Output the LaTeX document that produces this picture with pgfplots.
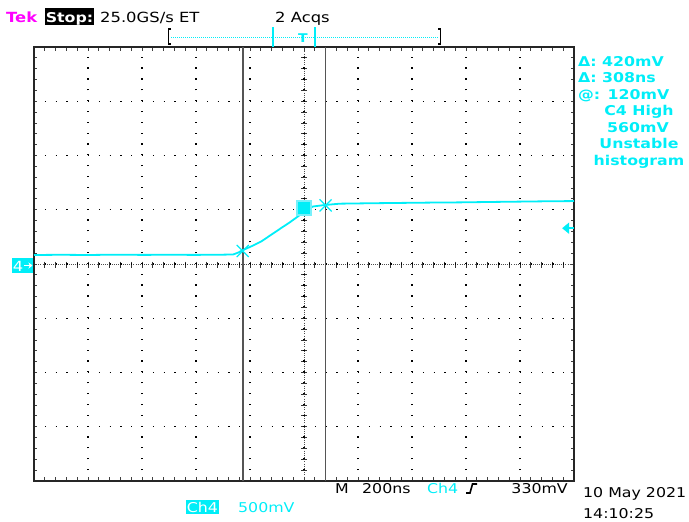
\documentclass[border=0pt]{standalone}
\usepackage{pgfplots}
\pgfplotsset{compat=1.18}
\usepackage{fontspec}
\setmainfont{DejaVu Sans}
\newfontfamily\tek[FakeStretch=1.17]{DejaVu Sans}
\usetikzlibrary{arrows.meta}
\definecolor{tcyan}{RGB}{0,238,248}
\definecolor{tmag}{RGB}{255,0,255}
\definecolor{cur}{RGB}{85,85,85}
\newcommand{\fs}[1]{\fontsize{#1}{#1}\selectfont}
\begin{document}
\begin{tikzpicture}
\begin{scope}[x=1pt,y=-1pt]
\useasboundingbox (0,0) rectangle (689,522);
% centre graticule lines with fine dots and minor ticks
\draw[black!70, line width=1pt, dash pattern=on 1pt off 1.16pt] (34,264.5)--(574,264.5);
\draw[black!70, line width=1pt, dash pattern=on 1pt off 1.17pt] (304,47)--(304,482);
\foreach \i in {0,...,50} \draw[black!80,line width=0.9pt] ({34+10.8*\i},261.5) -- ({34+10.8*\i},267.5);
\foreach \j in {0,...,40} \draw[black!80,line width=0.9pt] (301,{47+10.85*\j}) -- (307,{47+10.85*\j});
\end{scope}

\begin{axis}[
  at={(34pt,-47pt)}, anchor=north west,
  width=540pt, height=434pt, scale only axis,
  xmin=-1000, xmax=1000, ymin=-2000, ymax=2000,
  xtick={-1000,-800,...,1000}, ytick={-2000,-1500,...,2000},
  minor x tick num=4, minor y tick num=4,
  xticklabels={}, yticklabels={},
  tick align=inside, major tick length=3.5pt, minor tick length=3.5pt,
  tick style={black!75, line width=0.9pt},
  grid=major,
  x grid style={black, line width=1.2pt, dash pattern=on 1.2pt off 9.65pt},
  y grid style={black, line width=1.2pt, dash pattern=on 1.2pt off 9.6pt},
  axis line style={black!85, line width=1.5pt},
  clip=false,
]
% cursors
\addplot[cur, line width=1.6pt] coordinates {(-227,-2000) (-227,2000)};
\addplot[cur, line width=1.6pt] coordinates {(80,-2000) (80,2000)};
% trace (ns, mV)
\addplot[tcyan, line width=1.8pt] coordinates {
(-1000,83) (-900,85) (-800,83) (-700,86) (-600,84) (-500,85) (-400,84)
(-300,86) (-262,88) (-245,104) (-226,128) (-194,164) (-157,210) (-120,272)
(-83,334) (-52,385) (-21,441) (0,490) (33,530) (78,544) (133,556) (250,560)
(356,563) (470,566) (578,568) (700,572) (800,575) (900,578) (1000,580)};
% cursor crosses
\addplot[only marks, mark=x, mark size=8.5pt, tcyan, mark options={line width=1.2pt}] coordinates {(-227,120) (80,540)};
% trigger point marker
\addplot[only marks, mark=square*, mark size=7pt, mark options={draw={rgb,255:red,120;green,240;blue,250}, fill=tcyan, line width=1.2pt}] coordinates {(0,516)};
% trigger level arrow (330 mV)
\draw[tcyan, line width=2pt, -{Triangle[length=7pt,width=11pt]}] (axis cs:1000,330) -- (axis cs:956,330);
\end{axis}

\begin{scope}[x=1pt,y=-1pt]
% top line
\node[anchor=base west, inner sep=0, text=tmag, font=\tek\bfseries\fs{14}] at (6,22) {Tek};
\fill[black] (45,8) rectangle (94,25);
\node[anchor=base, inner sep=0, text=white, font=\tek\bfseries\fs{13.5}] at (69.5,22) {Stop:};
\node[anchor=base west, inner sep=0, font=\tek\fs{14}] at (100,22.5) {25.0GS/s ET};
\node[anchor=base west, inner sep=0, font=\tek\fs{14}] at (275,22.5) {2 Acqs};
% record bar
\draw[black, line width=1.5pt] (171,29)--(168.5,29)--(168.5,44)--(171,44);
\draw[black, line width=1.5pt] (438,29)--(440.5,29)--(440.5,44)--(438,44);
\draw[tcyan, line width=1pt, dash pattern=on 1pt off 1pt] (171,37.5)--(438,37.5);
\draw[tcyan, line width=1.3pt] (273,27)--(273,47);
\draw[tcyan, line width=1.3pt] (315,27)--(315,47);
\node[anchor=base, inner sep=0, text=tcyan, font=\tek\bfseries\fs{12}] at (303,42) {T};
% right readouts
\begin{scope}[every node/.style={inner sep=0, text=tcyan, font=\tek\bfseries\fs{13.5}}]
\node[anchor=base west] at (578,66) {Δ: 420mV};
\node[anchor=base west] at (578,82.5) {Δ: 308ns};
\node[anchor=base west] at (578,99) {@: 120mV};
\node[anchor=base] at (639,115.5) {C4 High};
\node[anchor=base] at (638,132) {560mV};
\node[anchor=base] at (639,148.5) {Unstable};
\node[anchor=base] at (639,165) {histogram};
\end{scope}
% ground marker
\fill[tcyan] (12,258) rectangle (33,273);
\node[anchor=base, inner sep=0, text=white, font=\tek\fs{14}] at (18,271) {4};
\draw[white, line width=1.3pt, -{Stealth[length=4pt,width=6pt]}] (24,265.5)--(32.5,265.5);
% bottom
\fill[tcyan] (186,500) rectangle (219,514);
\node[anchor=base, inner sep=0, text=white, font=\tek\fs{13.5}] at (202.5,512) {Ch4};
\node[anchor=base west, inner sep=0, text=tcyan, font=\tek\fs{13.5}] at (238,512) {500mV};
\node[anchor=base west, inner sep=0, font=\tek\fs{13.5}] at (335,493) {M};
\node[anchor=base west, inner sep=0, font=\tek\fs{13.5}] at (362,493) {200ns};
\node[anchor=base west, inner sep=0, text=tcyan, font=\tek\fs{13.5}] at (427,493) {Ch4};
\draw[black, line width=1.6pt] (466,493)--(470,493)--(472.5,484)--(477,484);
\node[anchor=base east, inner sep=0, font=\tek\fs{13.5}] at (568,493) {330mV};
\node[anchor=base west, inner sep=0, font=\tek\fs{13.5}] at (583,497) {10 May 2021};
\node[anchor=base west, inner sep=0, font=\tek\fs{13.5}] at (583,518) {14:10:25};
\end{scope}
\end{tikzpicture}
\end{document}
